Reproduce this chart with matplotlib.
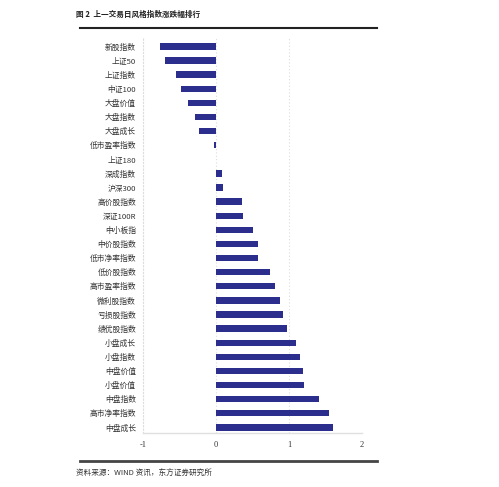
import matplotlib
matplotlib.use('Agg')
import matplotlib.pyplot as plt
from matplotlib.lines import Line2D

plt.rcParams['font.family'] = ['Noto Sans CJK SC', 'DejaVu Sans']

# 风格指数涨跌幅（%），从上到下
categories = ['新股指数', '上证50', '上证指数', '中证100', '大盘价值', '大盘指数', '大盘成长',
              '低市盈率指数', '上证180', '深成指数', '沪深300', '高价股指数', '深证100R', '中小板指',
              '中价股指数', '低市净率指数', '低价股指数', '高市盈率指数', '微利股指数', '亏损股指数',
              '绩优股指数', '小盘成长', '小盘指数', '中盘价值', '小盘价值', '中盘指数',
              '高市净率指数', '中盘成长']
values = [-0.77, -0.70, -0.55, -0.48, -0.38, -0.29, -0.23,
          -0.03, 0.0, 0.086, 0.096, 0.356, 0.365, 0.50,
          0.57, 0.57, 0.74, 0.81, 0.87, 0.92,
          0.97, 1.09, 1.15, 1.19, 1.21, 1.41,
          1.55, 1.60]
xticks = [-1, 0, 1, 2]

fig = plt.figure(figsize=(4.99, 4.87), dpi=100)
ax = fig.add_axes([0.2866, 0.1109, 0.4389, 0.8111])

pos = list(range(len(categories)))
ax.barh(pos, values, height=0.45, color='#2c2e8e')
ax.set_yticks(pos)
ax.set_yticklabels(categories, fontsize=5.6, color='#333333')
ax.set_ylim(len(categories) - 1 + 0.4, -0.6)
ax.set_xlim(-1, 2)
ax.set_xticks(xticks)
ax.set_xticklabels([str(t) for t in xticks], fontsize=6, color='#333333',
                   family=['Liberation Serif', 'DejaVu Serif'])
ax.tick_params(axis='both', length=0)
ax.tick_params(axis='y', pad=5)
ax.tick_params(axis='x', pad=6)

# 虚线网格
ax.grid(axis='x', linestyle=(0, (1, 2)), color='#dddddd', linewidth=0.8)
ax.set_axisbelow(True)
for s in ['top', 'right']:
    ax.spines[s].set_visible(False)
ax.spines['left'].set_linestyle((0, (1, 2)))
ax.spines['left'].set_color('#dddddd')
ax.spines['bottom'].set_color('#e0e0e0')
ax.spines['bottom'].set_linewidth(1.0)

# 标题和来源
fig.text(0.152, 1 - 14 / 487, '图 2  上一交易日风格指数涨跌幅排行', fontsize=5.5,
         fontweight='bold', va='center', ha='left', color='#222222')
fig.text(0.152, 1 - 474 / 487, '资料来源：WIND 资讯，东方证券研究所', fontsize=5.5,
         va='center', ha='left', color='#333333')
fig.add_artist(Line2D([0.160, 0.756], [1 - 28 / 487] * 2, color='#222222', linewidth=1.5))
fig.add_artist(Line2D([0.160, 0.756], [1 - 461 / 487] * 2, color='#444444', linewidth=2.0))

fig.savefig('out.png', dpi=100)
